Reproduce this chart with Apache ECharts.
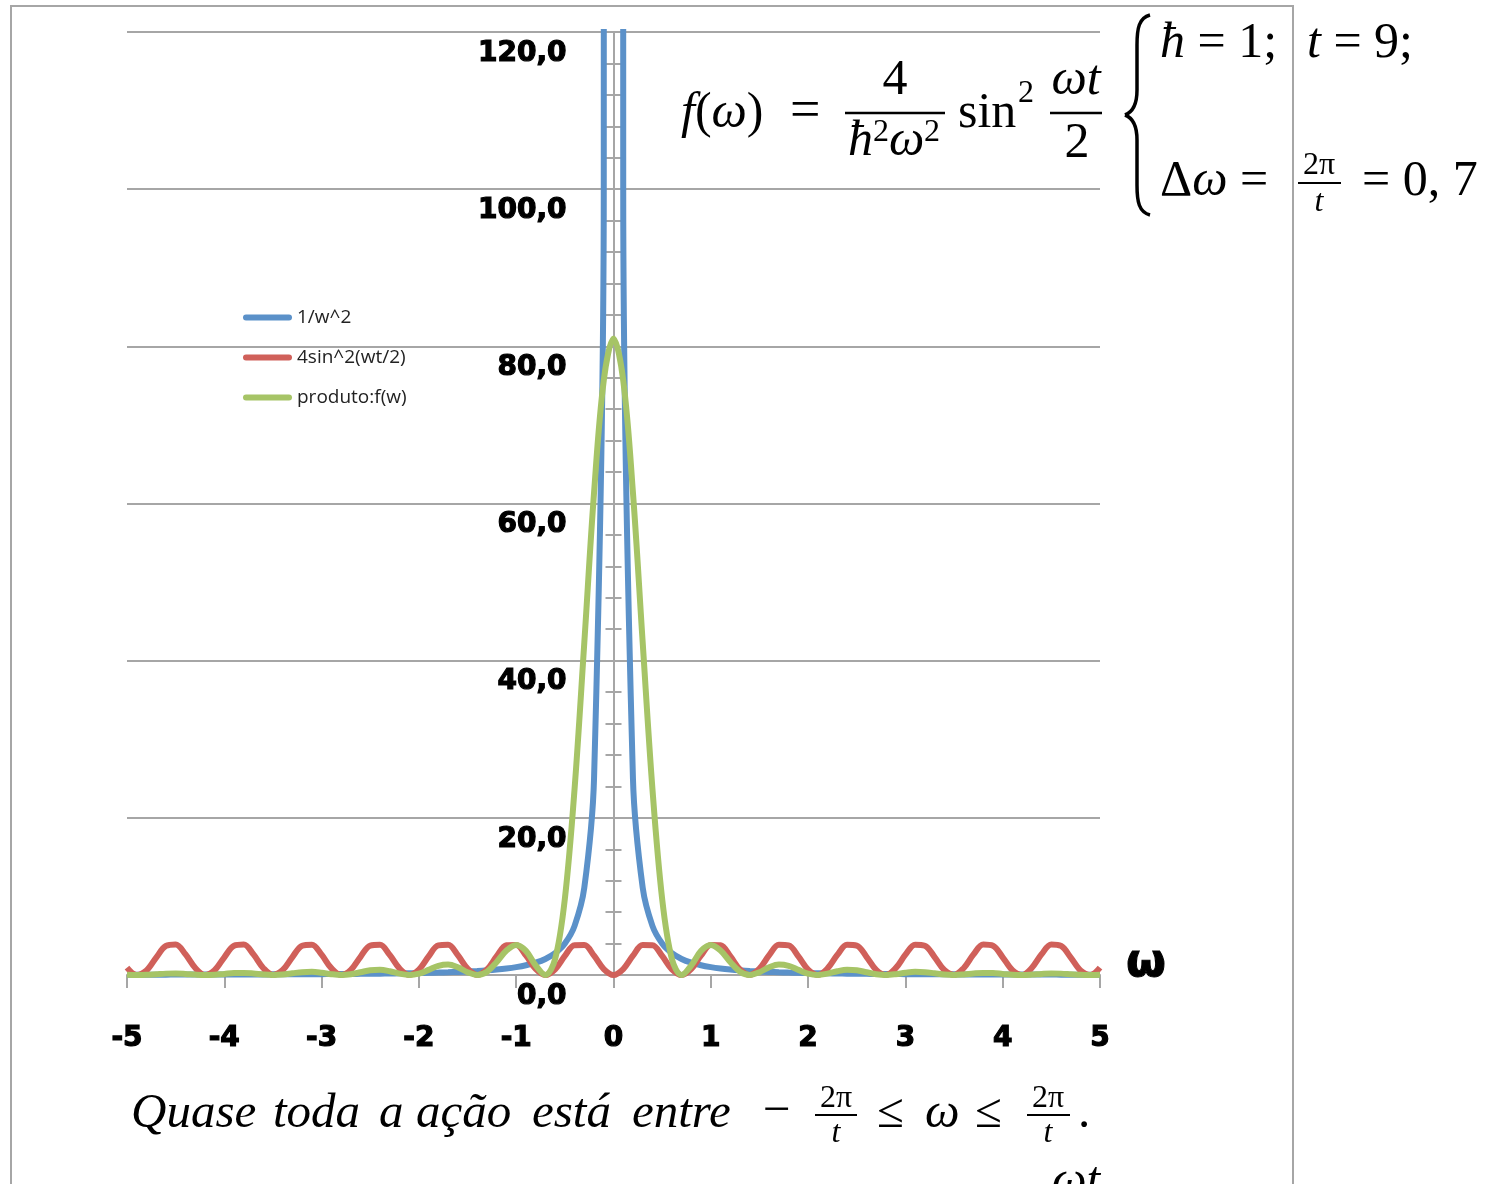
<!DOCTYPE html>
<html><head><meta charset="utf-8">
<script src="https://cdn.jsdelivr.net/npm/echarts@6/dist/echarts.min.js"></script>
<style>html,body{margin:0;padding:0;background:#fff}#c{width:1499px;height:1184px}</style>
</head><body><div id="c"></div><script>
// ---- data (omega sampled every 0.1 from -5 to 5) ----
const omega = [-5,-4.9,-4.8,-4.7,-4.6,-4.5,-4.4,-4.3,-4.2,-4.1,-4,-3.9,-3.8,-3.7,-3.6,-3.5,-3.4,-3.3,-3.2,-3.1,-3,-2.9,-2.8,-2.7,-2.6,-2.5,-2.4,-2.3,-2.2,-2.1,-2,-1.9,-1.8,-1.7,-1.6,-1.5,-1.4,-1.3,-1.2,-1.1,-1,-0.9,-0.8,-0.7,-0.6,-0.5,-0.4,-0.3,-0.2,-0.1,0,0.1,0.2,0.3,0.4,0.5,0.6,0.7,0.8,0.9,1,1.1,1.2,1.3,1.4,1.5,1.6,1.7,1.8,1.9,2,2.1,2.2,2.3,2.4,2.5,2.6,2.7,2.8,2.9,3,3.1,3.2,3.3,3.4,3.5,3.6,3.7,3.8,3.9,4,4.1,4.2,4.3,4.4,4.5,4.6,4.7,4.8,4.9,5];
const invOmegaSq = [0.04,0.042,0.043,0.045,0.047,0.049,0.052,0.054,0.057,0.059,0.063,0.066,0.069,0.073,0.077,0.082,0.087,0.092,0.098,0.104,0.111,0.119,0.128,0.137,0.148,0.16,0.174,0.189,0.207,0.227,0.25,0.277,0.309,0.346,0.391,0.444,0.51,0.592,0.694,0.826,1,1.235,1.563,2.041,2.778,4,6.25,11.11,25,100,
  10000,
  100,25,11.11,6.25,4,2.778,2.041,1.563,1.235,1,0.826,0.694,0.592,0.51,0.444,0.391,0.346,0.309,0.277,0.25,0.227,0.207,0.189,0.174,0.16,0.148,0.137,0.128,0.119,0.111,0.104,0.098,0.092,0.087,0.082,0.077,0.073,0.069,0.066,0.063,0.059,0.057,0.054,0.052,0.049,0.047,0.045,0.043,0.042,0.04];
const sinSq = [0.949,0.014,0.581,2.223,3.695,3.885,2.648,0.921,0.01,0.605,2.256,3.713,3.874,2.616,0.893,0.007,0.63,2.289,3.73,3.862,2.584,0.865,0.005,0.654,2.322,3.747,3.849,2.552,0.837,0.003,0.68,2.356,3.763,3.836,2.52,0.81,0.001,0.705,2.389,3.778,3.822,2.487,0.783,0,0.731,2.422,3.794,3.808,2.454,0.757,
  0,
  0.757,2.454,3.808,3.794,2.422,0.731,0,0.783,2.487,3.822,3.778,2.389,0.705,0.001,0.81,2.52,3.836,3.763,2.356,0.68,0.003,0.837,2.552,3.849,3.747,2.322,0.654,0.005,0.865,2.584,3.862,3.73,2.289,0.63,0.007,0.893,2.616,3.874,3.713,2.256,0.605,0.01,0.921,2.648,3.885,3.695,2.223,0.581,0.014,0.949];
const produto = [0.038,0.001,0.025,0.101,0.175,0.192,0.137,0.05,0.001,0.036,0.141,0.245,0.268,0.191,0.069,0.001,0.055,0.211,0.364,0.402,0.287,0.103,0.001,0.09,0.344,0.6,0.668,0.482,0.173,0.001,0.17,0.653,1.161,1.327,0.984,0.36,0.001,0.417,1.659,3.122,3.822,3.071,1.224,0.001,2.03,9.69,23.71,42.31,61.36,75.68,
  81,
  75.68,61.36,42.31,23.71,9.69,2.03,0.001,1.224,3.071,3.822,3.122,1.659,0.417,0.001,0.36,0.984,1.327,1.161,0.653,0.17,0.001,0.173,0.482,0.668,0.6,0.344,0.09,0.001,0.103,0.287,0.402,0.364,0.211,0.055,0.001,0.069,0.191,0.268,0.245,0.141,0.036,0.001,0.05,0.137,0.192,0.175,0.101,0.025,0.001,0.038];
const seriesNames = ['1/w^2', '4sin^2(wt/2)', 'produto:f(w)'];
const seriesColors = ['#5b91c9', '#d0605a', '#a6c466'];
const xRange = [-5, 5], xStep = 1;
const yRange = [0, 120], yStep = 20;

// ---- chart ----
const chart = echarts.init(document.getElementById('c'), null, {renderer: 'canvas'});
const gray = '#a6a6a6';
const GL = 127, GR = 1100;                 // grid left / right edges (px)
const yAxisShift = -((GR - GL) / 2);       // puts the vertical axis at omega = 0
const LBL = {color: '#000', fontFamily: '"DejaVu Sans", sans-serif', fontWeight: 'bold', fontSize: 28,
  textBorderColor: '#000', textBorderWidth: 1.2};
const SERIF = '"Liberation Serif", "DejaVu Serif", serif';
const F = (sz, it) => (it ? 'italic ' : '') + sz + 'px ' + SERIF;
function T(text, x, y, size, align) {
  return {type: 'text', z: 100, silent: true, style: {
    text: text, x: x, y: y, font: F(size, false), fill: '#000',
    align: align || 'left', textAlign: align || 'left', verticalAlign: 'middle', textVerticalAlign: 'middle',
    rich: {i: {font: F(size, true), fill: '#000'}}
  }};
}
function L(x1, y1, x2, y2, w) {
  return {type: 'line', z: 100, silent: true, shape: {x1: x1, y1: y1, x2: x2, y2: y2}, style: {stroke: '#000', lineWidth: w || 2.5}};
}
function B(x1, y1, c1x, c1y, c2x, c2y, x2, y2) {
  return {type: 'bezierCurve', z: 100, silent: true, shape: {x1: x1, y1: y1, cpx1: c1x, cpy1: c1y, cpx2: c2x, cpy2: c2y, x2: x2, y2: y2}, style: {stroke: '#000', lineWidth: 3.5, fill: null}};
}
const graphics = [
  {type: 'rect', z: 0, silent: true, shape: {x: 11, y: 6, width: 1282, height: 1240}, style: {fill: null, stroke: gray, lineWidth: 2}},
  // main formula
  T('{i|f}({i|ω})', 681, 114, 50),
  T('=', 790, 113, 54),
  T('4', 895, 81, 50, 'center'),
  L(845, 113, 945, 113),
  T('{i|ħ}', 848, 142, 50),
  T('2', 873, 133, 32),
  T('{i|ω}', 889, 142, 50),
  T('2', 924, 133, 32),
  T('sin', 958, 114, 50),
  T('2', 1018, 94, 32),
  T('{i|ωt}', 1076, 81, 50, 'center'),
  L(1050, 113, 1102, 113),
  T('2', 1077, 144, 50, 'center'),
  // brace
  B(1150, 15, 1139, 18, 1137, 28, 1137, 45),
  L(1137, 45, 1137, 90, 3.5),
  B(1137, 90, 1137, 105, 1133, 112, 1125, 115),
  B(1125, 115, 1133, 118, 1137, 125, 1137, 140),
  L(1137, 140, 1137, 185, 3.5),
  B(1137, 185, 1137, 202, 1139, 212, 1150, 215),
  T('{i|ħ} = 1;', 1160, 44, 50),
  T('{i|t} = 9;', 1307, 44, 50),
  T('Δ{i|ω} =', 1160, 182, 50),
  T('2π', 1319, 166, 32, 'center'),
  L(1298, 183, 1341, 183, 2),
  T('{i|t}', 1319, 203, 32, 'center'),
  T('= 0, 7', 1362, 182, 50),
  // bottom sentence
  T('{i|Quase}', 131, 1114, 49),
  T('{i|toda}', 273, 1114, 49),
  T('{i|a}', 379, 1114, 49),
  T('{i|ação}', 416, 1114, 49),
  T('{i|está}', 532, 1114, 49),
  T('{i|entre}', 632, 1114, 49),
  T('−', 763, 1112, 49),
  T('2π', 836, 1099, 32, 'center'),
  L(815, 1115, 857, 1115, 2),
  T('{i|t}', 836, 1134, 32, 'center'),
  T('≤', 877, 1114, 49),
  T('{i|ω}', 925, 1114, 49),
  T('≤', 975, 1114, 49),
  T('2π', 1048, 1099, 32, 'center'),
  L(1027, 1115, 1070, 1115, 2),
  T('{i|t}', 1048, 1134, 32, 'center'),
  T('.', 1078, 1114, 49),
  T('{i|ωt}', 1052, 1182, 49)
];

const yAxisCommon = {
  type: 'value', min: yRange[0], max: yRange[1], interval: yStep, position: 'left', offset: yAxisShift,
  axisLine: {show: true, onZero: false, lineStyle: {color: gray, width: 2}}
};
const option = {
  animation: false,
  backgroundColor: '#ffffff',
  grid: {left: GL, right: 1499 - GR, top: 32, bottom: 209, containLabel: false, outerBoundsMode: 'none'},
  legend: {
    orient: 'vertical', left: 243, top: 308, padding: 0, itemWidth: 49, itemHeight: 6, itemGap: 21,
    icon: 'path://M3,0 L46,0 A3,3 0 0 1 46,6 L3,6 A3,3 0 0 1 3,0 Z',
    textStyle: {fontFamily: '"Open Sans", sans-serif', fontSize: 19, color: '#222'},
    data: seriesNames
  },
  xAxis: {
    type: 'value', min: xRange[0], max: xRange[1], interval: xStep,
    name: 'ω', nameLocation: 'end', nameGap: 26,
    nameTextStyle: {fontFamily: '"DejaVu Sans", sans-serif', fontWeight: 'bold', fontSize: 46, color: '#000',
      verticalAlign: 'bottom', lineHeight: 21, textBorderColor: '#000', textBorderWidth: 1},
    axisLine: {show: true, onZero: false, lineStyle: {color: gray, width: 2}},
    axisTick: {show: true, length: 13, lineStyle: {color: gray, width: 2}},
    axisLabel: Object.assign({margin: 50, verticalAlign: 'top', formatter: v => String(v)}, LBL),
    splitLine: {show: false}
  },
  yAxis: [
    Object.assign({}, yAxisCommon, {
      axisTick: {show: true, length: 8, lineStyle: {color: gray, width: 2}},
      minorTick: {show: true, splitNumber: 5, length: 8, lineStyle: {color: gray, width: 2}},
      axisLabel: Object.assign({margin: 47, verticalAlign: 'top', lineHeight: 43,
        formatter: v => v.toFixed(1).replace('.', ',')}, LBL),
      splitLine: {show: true, lineStyle: {color: gray, width: 2}}
    }),
    Object.assign({}, yAxisCommon, {
      axisTick: {show: true, inside: true, length: 8, lineStyle: {color: gray, width: 2}},
      minorTick: {show: true, splitNumber: 5, length: 8, lineStyle: {color: gray, width: 2}},
      axisLabel: {show: false},
      splitLine: {show: false}
    })
  ],
  series: [invOmegaSq, sinSq, produto].map((vals, k) => ({
    name: seriesNames[k], type: 'line', xAxisIndex: 0, yAxisIndex: 0,
    data: omega.map((w, i) => [w, vals[i]]),
    symbol: 'none', smooth: 0.35, clip: true,
    color: seriesColors[k],
    lineStyle: {color: seriesColors[k], width: 6},
    z: 2 + k
  })),
  graphic: graphics
};
chart.setOption(option);
</script></body></html>
